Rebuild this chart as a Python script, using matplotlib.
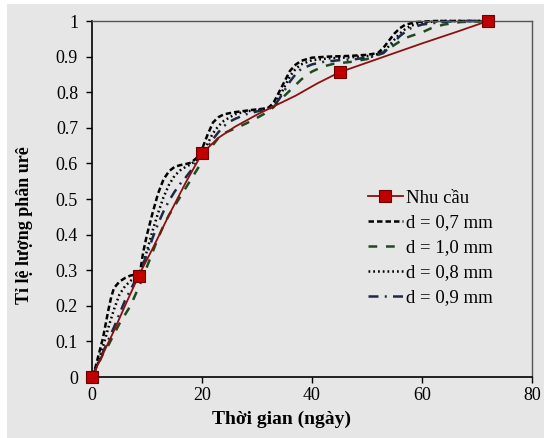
import matplotlib.pyplot as plt
from matplotlib.patches import Rectangle
from matplotlib.lines import Line2D

# demand curve (Nhu cau): markers + smooth line
demand_t = [0, 8.5, 20, 45, 72]
demand_y = [0, 0.285, 0.628, 0.856, 1.0]
demand_line_t = [0, 2, 4, 6, 8.5, 11, 14, 17, 20, 23, 26, 30, 33, 37, 41, 45, 50, 55, 60, 66, 72]
demand_line_y = [0, 0.065, 0.13, 0.2, 0.285, 0.36, 0.455, 0.545, 0.628, 0.672, 0.703, 0.737,
                 0.76, 0.79, 0.825, 0.856, 0.883, 0.91, 0.937, 0.968, 1.0]

# release curves for each granule size
t07 = [0, 0.5, 1, 2, 3, 3.5, 4, 5, 6, 7, 8, 8.8, 9.3, 10, 11, 12, 13, 14, 15, 16, 17, 18, 19,
       20, 21, 22, 23, 24, 26, 29, 32, 33, 34, 35, 36, 37, 38, 40, 43, 47, 50, 52, 53, 54, 55,
       56, 57, 59, 62, 72]
y07 = [0, 0.02, 0.05, 0.11, 0.19, 0.225, 0.25, 0.268, 0.278, 0.285, 0.288, 0.3, 0.35, 0.4,
       0.46, 0.515, 0.555, 0.578, 0.59, 0.595, 0.598, 0.602, 0.615, 0.64, 0.68, 0.715, 0.73,
       0.738, 0.744, 0.75, 0.755, 0.77, 0.8, 0.83, 0.86, 0.877, 0.888, 0.897, 0.9, 0.902, 0.905,
       0.91, 0.925, 0.945, 0.965, 0.98, 0.99, 0.997, 1.0, 1.0]

t08 = [0, 1, 2, 3, 4, 5, 6, 7, 8, 9, 10, 11, 12, 13, 14, 15, 16, 17, 18, 19, 20, 21, 22, 23,
       24, 26, 28, 31, 33, 34, 35, 36, 37, 38, 40, 43, 47, 51, 53, 54, 55, 56, 57, 58, 60, 63, 72]
y08 = [0, 0.035, 0.085, 0.14, 0.19, 0.232, 0.255, 0.27, 0.28, 0.3, 0.355, 0.41, 0.46, 0.505,
       0.54, 0.565, 0.58, 0.59, 0.598, 0.61, 0.628, 0.655, 0.685, 0.705, 0.72, 0.738, 0.746,
       0.752, 0.76, 0.785, 0.815, 0.845, 0.865, 0.878, 0.89, 0.895, 0.898, 0.903, 0.912, 0.93,
       0.948, 0.965, 0.978, 0.987, 0.995, 1.0, 1.0]

t09 = [0, 2, 4, 6, 8, 9, 10, 11, 12, 13, 14, 15, 16, 17, 18, 19, 20, 21, 22, 23, 24, 25, 26,
       28, 30, 32, 33, 34, 35, 36, 37, 38, 40, 42, 45, 48, 51, 53, 54, 55, 56, 57, 58, 60, 63,
       66, 72]
y09 = [0, 0.07, 0.14, 0.215, 0.275, 0.305, 0.345, 0.39, 0.43, 0.465, 0.495, 0.52, 0.542, 0.56,
       0.58, 0.605, 0.625, 0.645, 0.668, 0.688, 0.705, 0.717, 0.725, 0.738, 0.746, 0.752, 0.76,
       0.78, 0.805, 0.83, 0.85, 0.865, 0.878, 0.885, 0.89, 0.893, 0.9, 0.91, 0.925, 0.942,
       0.958, 0.97, 0.98, 0.99, 0.996, 1.0, 1.0]

t10 = [0, 1, 2, 3, 4, 5, 6, 7, 8, 9, 10, 11, 12, 13, 14, 15, 16, 17, 18, 19, 20, 21, 22, 23,
       24, 26, 28, 30, 32, 33, 34, 35, 36, 37, 38, 39, 40, 42, 44, 47, 50, 52, 53, 54, 55, 56,
       57, 58, 60, 62, 64, 67, 72]
y10 = [0, 0.03, 0.065, 0.09, 0.12, 0.15, 0.175, 0.2, 0.235, 0.27, 0.31, 0.35, 0.39, 0.425,
       0.455, 0.48, 0.505, 0.53, 0.555, 0.58, 0.605, 0.628, 0.652, 0.672, 0.685, 0.698, 0.712,
       0.728, 0.745, 0.758, 0.775, 0.79, 0.805, 0.82, 0.835, 0.848, 0.858, 0.872, 0.88, 0.885,
       0.893, 0.905, 0.913, 0.922, 0.933, 0.943, 0.952, 0.958, 0.968, 0.982, 0.99, 0.997, 1.0]

labels = ["Nhu cầu", "d = 0,7 mm", "d = 1,0 mm", "d = 0,8 mm", "d = 0,9 mm"]

BG = "#e6e6e6"
plt.rcParams['font.family'] = ['Liberation Serif', 'DejaVu Serif']

fig = plt.figure(figsize=(5.44, 4.38), dpi=100)
fig.patch.set_facecolor("white")
fig.patches.append(Rectangle((7 / 544, 0), 1, 434 / 438, transform=fig.transFigure,
                             facecolor=BG, edgecolor="none", zorder=-10))
ax = fig.add_axes([92 / 544, 61 / 438, 440 / 544, 356 / 438])
ax.set_facecolor(BG)

lw = 1.8
style = dict(lw=lw, zorder=2, clip_on=False, dash_capstyle="butt", dash_joinstyle="round")
ax.plot(demand_line_t, demand_line_y, color="#8b1010", lw=1.3, zorder=3)
ax.plot(demand_t, demand_y, ls="none", marker="s", ms=9.3, mfc="#c00000", mec="#6b0000",
        mew=0.8, zorder=4, clip_on=False)
l1, = ax.plot(t07, y07, color="black", dashes=(2.2, 1.2), **style)
l2, = ax.plot(t10, y10, color="#1f4a1f", dashes=(3.5, 3.5), **style)
l3, = ax.plot(t08, y08, color="black", dashes=(0.7, 1.2), **style)
l4, = ax.plot(t09, y09, color="#1b2a48", dashes=(4, 2.5, 0.8, 2.5), **style)

h0 = Line2D([], [], color="#8b1010", lw=1.3, marker="s", ms=9.3, mfc="#c00000",
            mec="#6b0000", mew=0.8)
leg = ax.legend([h0, l1, l2, l3, l4], labels, loc="upper left", bbox_to_anchor=(0.61, 0.548),
                frameon=False, fontsize=13.5, handlelength=1.85, handletextpad=0.2,
                labelspacing=0.42, borderaxespad=0)

ax.set_xlim(0, 80)
ax.set_ylim(0, 1)
ax.set_xticks([0, 20, 40, 60, 80])
ax.set_yticks([0, 0.1, 0.2, 0.3, 0.4, 0.5, 0.6, 0.7, 0.8, 0.9, 1])
ax.set_yticklabels(["0", "0.1", "0.2", "0.3", "0.4", "0.5", "0.6", "0.7", "0.8", "0.9", "1"])
ax.tick_params(labelsize=13, direction="out", length=4, width=1, color="black")
ax.tick_params(axis="y", pad=6)
for s in ["left", "bottom"]:
    ax.spines[s].set_color("black")
    ax.spines[s].set_linewidth(1.2)
for s in ["top", "right"]:
    ax.spines[s].set_color("#555555")
    ax.spines[s].set_linewidth(1.0)

ax.set_xlabel("Thời gian (ngày)", fontsize=14, fontweight="bold")
ax.set_ylabel("Tỉ lệ lượng phân urê", fontsize=13, fontweight="bold")
ax.xaxis.set_label_coords(0.43, -0.095)
ax.yaxis.set_label_coords(-0.133, 0.428)

fig.savefig("out.png", dpi=100, facecolor=fig.get_facecolor())
